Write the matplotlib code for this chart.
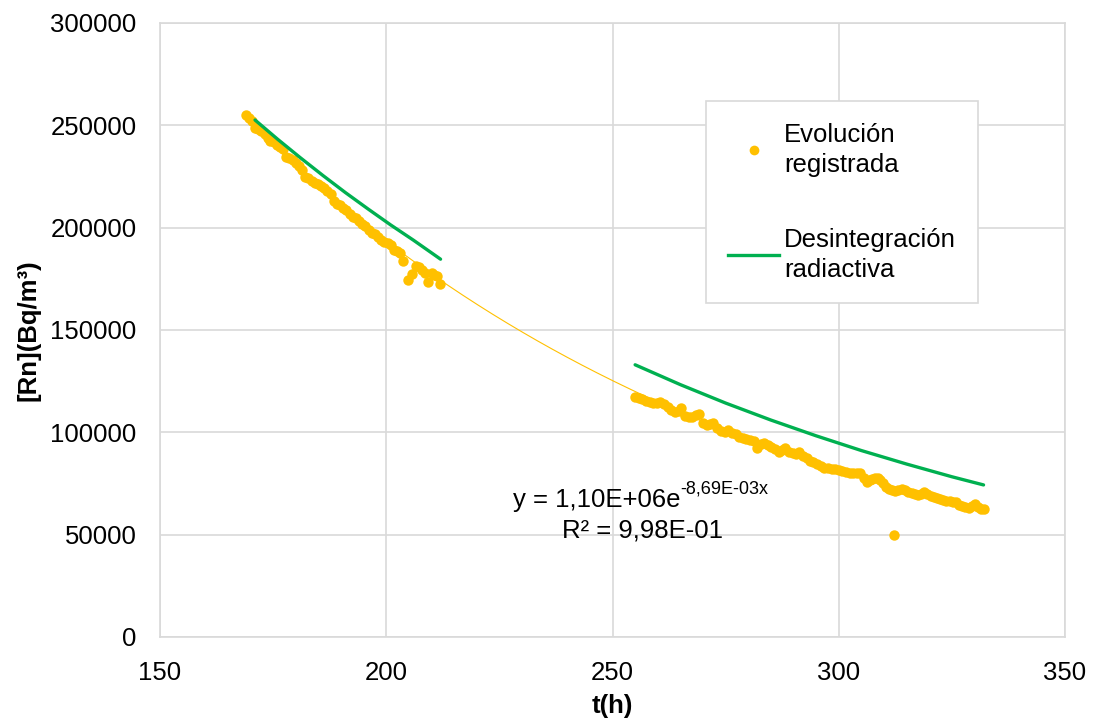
import matplotlib
matplotlib.use("Agg")
import matplotlib.pyplot as plt
from matplotlib.lines import Line2D
import numpy as np

plt.rcParams['font.family'] = ['Liberation Sans', 'DejaVu Sans']

# ---- data ----
t_seg1 = [169.0, 169.6, 170.3, 171.0, 171.7, 172.4, 173.1, 173.8, 174.4, 175.1,
          175.8, 176.5, 177.2, 177.9, 178.6, 179.3, 180.0, 180.7, 181.4, 182.1,
          182.8, 183.5, 184.2, 184.9, 185.6, 186.3, 187.0, 187.7, 188.4, 189.1,
          189.8, 190.5, 191.2, 191.9, 192.6, 193.3, 194.0, 194.7, 195.4, 196.1,
          196.8, 197.5, 198.2, 198.9, 199.6, 200.3, 201.0, 201.7, 202.4, 203.1,
          203.8, 204.9, 205.8, 206.6, 207.3, 208.0, 208.6, 209.2, 210.0, 210.6,
          211.2, 211.9]
rn_seg1 = [255000, 253500, 252000, 248500, 248000, 247300, 246000, 244000, 242500, 241800,
           240300, 239200, 238500, 234500, 234000, 233000, 231800, 230200, 228000, 225000,
           224300, 223000, 222000, 221500, 220500, 219200, 218000, 216500, 213000, 211500,
           211000, 209800, 208600, 206500, 205300, 204500, 203500, 202000, 201000, 199000,
           197500, 196800, 195600, 194000, 192800, 192300, 191500, 189000, 188500, 187800,
           183500, 174400, 177300, 181500, 181000, 179300, 177800, 173600, 178000, 177000,
           176300, 172300]

t_seg2 = [255.0, 255.8, 256.6, 257.4, 258.2, 259.0, 259.8, 260.6, 261.4, 262.2,
          263.0, 263.8, 264.6, 265.2, 266.0, 266.8, 267.6, 268.4, 269.1, 270.0,
          270.8, 271.6, 272.3, 273.2, 274.0, 274.8, 275.6, 276.4, 277.2, 278.0,
          278.8, 279.6, 280.4, 281.2, 282.0, 282.8, 283.5, 284.3, 285.1, 285.9,
          286.7, 287.5, 288.2, 289.0, 289.8, 290.6, 291.3, 292.1, 292.9, 293.6,
          294.4, 295.2, 296.0, 296.8, 297.6, 298.4, 299.2, 300.0, 300.8, 301.6,
          302.4, 303.2, 304.0, 304.8, 305.6, 306.2, 306.8, 307.4, 308.0, 308.6,
          309.2, 309.8, 310.4, 311.0, 311.7, 312.2, 312.5, 313.2, 314.0, 314.7,
          315.4, 316.1, 316.8, 317.5, 318.2, 318.9, 319.6, 320.3, 321.0, 321.7,
          322.4, 323.1, 323.8, 324.5, 325.2, 325.9, 326.6, 327.3, 328.0, 328.7,
          329.4, 330.1, 330.8, 331.5, 332.2]
rn_seg2 = [117400, 116800, 116200, 115400, 115000, 114400, 114100, 114600, 113800, 112400,
           111000, 109800, 110200, 111700, 107800, 107300, 107600, 108300, 108800, 104600,
           103800, 104000, 104400, 102000, 100800, 100300, 101000, 99800, 99000, 97900,
           97300, 96600, 96100, 95800, 92300, 94200, 94600, 93800, 92800, 91800,
           90500, 91600, 92200, 90400, 89800, 89500, 90400, 88400, 87600, 86000,
           85400, 84600, 83600, 82400, 82400, 82200, 82000, 81600, 80900, 80600,
           80200, 80000, 79900, 80300, 77500, 75900, 76500, 77000, 77800, 77600,
           76500, 75200, 73500, 72300, 72000, 49800, 71500, 71800, 72500, 72000,
           70800, 70300, 69900, 69500, 70000, 71000, 70000, 68800, 68400, 67900,
           67500, 67000, 66500, 66300, 66200, 66000, 64500, 63800, 63500, 63000,
           64000, 65200, 63300, 62600, 62400]

# radioactive decay curves
t_decay1 = [171.0, 176.0, 181.0, 186.0, 191.0, 196.0, 201.0, 206.0, 212.0]
rn_decay1 = [252600, 243200, 234200, 225500, 217100, 209100, 201300, 193900, 184600]
t_decay2 = [255.0, 265.0, 275.0, 285.0, 295.0, 305.0, 315.0, 325.0, 332.0]
rn_decay2 = [133000, 123300, 114300, 106000, 98300, 91100, 84500, 78300, 74300]

# exponential trendline coefficients shown in the chart
trend_A = 1.10e6
trend_k = -8.69e-3

x_ticks = [150, 200, 250, 300, 350]
y_ticks = [0, 50000, 100000, 150000, 200000, 250000, 300000]

ORANGE = '#FFC000'
GREEN = '#00B050'
GRID = '#D9D9D9'
FS = 18.5

fig = plt.figure(figsize=(10.94, 7.24), dpi=100)
ax = fig.add_axes([160/1094, 1-637/724, (1065-160)/1094, (637-23)/724])

t_all = np.array(t_seg1 + t_seg2)
rn_all = np.array(rn_seg1 + rn_seg2)
tt = np.linspace(t_all.min(), t_all.max(), 300)
ax.plot(tt, trend_A*np.exp(trend_k*tt), color=ORANGE, lw=0.8, zorder=2)
ax.plot(t_all, rn_all, 'o', color=ORANGE, markersize=7.5, markeredgewidth=0, zorder=3)
ax.plot(t_decay1, rn_decay1, color=GREEN, lw=2.4, zorder=4, solid_capstyle='round')
ax.plot(t_decay2, rn_decay2, color=GREEN, lw=2.4, zorder=4, solid_capstyle='round')

ax.set_xlim(150, 350)
ax.set_ylim(0, 300000)
ax.set_xticks(x_ticks)
ax.set_yticks(y_ticks)
ax.set_xticklabels([str(v) for v in x_ticks])
ax.set_yticklabels([str(v) for v in y_ticks])
ax.tick_params(length=0, labelsize=FS, colors='black')
ax.tick_params(axis='y', pad=17)
ax.tick_params(axis='x', pad=17)
ax.grid(True, color=GRID, lw=1.2, zorder=0)
ax.set_axisbelow(True)
for s in ax.spines.values():
    s.set_color(GRID)
    s.set_linewidth(1.2)

ax.set_xlabel('t(h)', fontsize=FS, fontweight='bold', labelpad=7)
ax.set_ylabel('[Rn](Bq/m³)', fontsize=FS, fontweight='bold', labelpad=7)

eq = ax.text(228.0, 67000, 'y = 1,10E+06e', fontsize=FS, ha='left', va='center')
ax.annotate('-8,69E-03x', xy=(1.0, 0.6), xycoords=eq, fontsize=FS*0.7,
            ha='left', va='bottom')
ax.text(256.7, 52000, 'R² = 9,98E-01', fontsize=FS, ha='center', va='center')

handles = [Line2D([], [], marker='o', ls='none', color=ORANGE, markersize=7, markeredgewidth=0),
           Line2D([], [], color=GREEN, lw=2.4)]
leg = ax.legend(handles, ['Evolución\nregistrada', 'Desintegración\nradiactiva'],
                loc='upper left', bbox_to_anchor=((706-160)/905, (637-101)/614),
                fontsize=FS, frameon=True, fancybox=False, framealpha=1,
                edgecolor=GRID, labelspacing=2.0, handlelength=2.0, handletextpad=0.2,
                borderpad=0.85, borderaxespad=0)
for txt in leg.get_texts():
    txt.set_linespacing(1.3)
leg.get_frame().set_linewidth(1.2)

fig.savefig('out.png', dpi=100)
